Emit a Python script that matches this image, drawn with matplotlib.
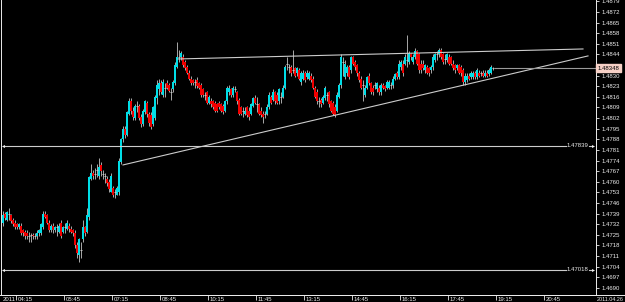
import numpy as np
import matplotlib
matplotlib.use("Agg")
import matplotlib.pyplot as plt
from matplotlib.lines import Line2D

# --------- DATA (M5-ish bars) -----------------------------
open_ = [
    1.4733, 1.4739, 1.4735, 1.4739, 1.4738, 1.4735, 1.4733, 1.4732, 1.4730, 1.4731,
    1.4728, 1.4727, 1.4726, 1.4724, 1.4725, 1.4725, 1.4724, 1.4724, 1.4726, 1.4726,
    1.4730, 1.4739, 1.4738, 1.4733, 1.4728, 1.4731, 1.4728, 1.4730, 1.4727, 1.4733,
    1.4727, 1.4730, 1.4729, 1.4731, 1.4729, 1.4728, 1.4726, 1.4718, 1.4712, 1.4715,
    1.4722, 1.4730, 1.4727, 1.4737, 1.4762, 1.4766, 1.4765, 1.4768, 1.4764, 1.4771,
    1.4765, 1.4764, 1.4762, 1.4760, 1.4753, 1.4756, 1.4753, 1.4751, 1.4753, 1.4773,
    1.4788, 1.4795, 1.4791, 1.4805, 1.4813, 1.4807, 1.4802, 1.4810, 1.4810, 1.4803,
    1.4798, 1.4806, 1.4812, 1.4805, 1.4804, 1.4798, 1.4802, 1.4815, 1.4821, 1.4825,
    1.4817, 1.4822, 1.4825, 1.4824, 1.4819, 1.4821, 1.4825, 1.4836, 1.4842, 1.4842,
    1.4842, 1.4839, 1.4836, 1.4832, 1.4828, 1.4827, 1.4826, 1.4827, 1.4825, 1.4824,
    1.4821, 1.4817, 1.4819, 1.4812, 1.4813, 1.4813, 1.4812, 1.4811, 1.4812, 1.4811,
    1.4810, 1.4807, 1.4813, 1.4819, 1.4821, 1.4817, 1.4821, 1.4819, 1.4814, 1.4809,
    1.4807, 1.4805, 1.4809, 1.4807, 1.4805, 1.4810, 1.4815, 1.4811, 1.4811, 1.4807,
    1.4805, 1.4805, 1.4805, 1.4809, 1.4816, 1.4814, 1.4819, 1.4817, 1.4813, 1.4816,
    1.4816, 1.4822, 1.4838, 1.4836, 1.4836, 1.4834, 1.4835, 1.4832, 1.4834, 1.4826,
    1.4828, 1.4832, 1.4829, 1.4828, 1.4830, 1.4828, 1.4822, 1.4819, 1.4813, 1.4814,
    1.4812, 1.4815, 1.4817, 1.4819, 1.4813, 1.4812, 1.4809, 1.4807, 1.4816, 1.4824,
    1.4839, 1.4829, 1.4832, 1.4836, 1.4834, 1.4842, 1.4839, 1.4837, 1.4832, 1.4828,
    1.4824, 1.4817, 1.4822, 1.4830, 1.4825, 1.4822, 1.4824, 1.4821, 1.4822, 1.4819,
    1.4824, 1.4823, 1.4822, 1.4822, 1.4824, 1.4824, 1.4828, 1.4832, 1.4829, 1.4836,
    1.4838, 1.4838, 1.4840, 1.4839, 1.4844, 1.4839, 1.4842, 1.4846, 1.4844, 1.4838,
    1.4838, 1.4834, 1.4836, 1.4835, 1.4834, 1.4836, 1.4840, 1.4844, 1.4844, 1.4847,
    1.4844, 1.4841, 1.4840, 1.4842, 1.4842, 1.4838, 1.4837, 1.4835, 1.4837, 1.4836,
    1.4834, 1.4826, 1.4827, 1.4830, 1.4829, 1.4829, 1.4832, 1.4829, 1.4832, 1.4832,
    1.4832, 1.4830, 1.4832, 1.4831, 1.4832, 1.4835,
]
high = [
    1.4741, 1.4740, 1.4741, 1.4743, 1.4739, 1.4736, 1.4735, 1.4733, 1.4733, 1.4733,
    1.4729, 1.4728, 1.4728, 1.4727, 1.4726, 1.4726, 1.4726, 1.4728, 1.4729, 1.4733,
    1.4741, 1.4741, 1.4739, 1.4735, 1.4732, 1.4733, 1.4731, 1.4732, 1.4733, 1.4735,
    1.4731, 1.4733, 1.4735, 1.4733, 1.4731, 1.4729, 1.4728, 1.4720, 1.4723, 1.4720,
    1.4735, 1.4731, 1.4743, 1.4764, 1.4772, 1.4768, 1.4769, 1.4772, 1.4776, 1.4773,
    1.4768, 1.4766, 1.4764, 1.4762, 1.4766, 1.4757, 1.4755, 1.4757, 1.4776, 1.4789,
    1.4797, 1.4797, 1.4807, 1.4815, 1.4815, 1.4809, 1.4811, 1.4813, 1.4811, 1.4805,
    1.4808, 1.4814, 1.4813, 1.4806, 1.4806, 1.4810, 1.4817, 1.4827, 1.4828, 1.4827,
    1.4828, 1.4825, 1.4827, 1.4825, 1.4822, 1.4827, 1.4839, 1.4852, 1.4847, 1.4846,
    1.4844, 1.4840, 1.4837, 1.4834, 1.4830, 1.4828, 1.4828, 1.4829, 1.4826, 1.4825,
    1.4822, 1.4819, 1.4820, 1.4817, 1.4815, 1.4814, 1.4813, 1.4812, 1.4813, 1.4812,
    1.4811, 1.4814, 1.4823, 1.4824, 1.4822, 1.4823, 1.4823, 1.4820, 1.4815, 1.4810,
    1.4809, 1.4809, 1.4810, 1.4809, 1.4812, 1.4816, 1.4817, 1.4816, 1.4812, 1.4809,
    1.4807, 1.4807, 1.4811, 1.4819, 1.4817, 1.4821, 1.4820, 1.4819, 1.4822, 1.4819,
    1.4824, 1.4837, 1.4842, 1.4838, 1.4837, 1.4847, 1.4836, 1.4836, 1.4835, 1.4833,
    1.4834, 1.4833, 1.4834, 1.4833, 1.4832, 1.4830, 1.4823, 1.4821, 1.4816, 1.4815,
    1.4817, 1.4823, 1.4819, 1.4820, 1.4814, 1.4813, 1.4811, 1.4819, 1.4825, 1.4844,
    1.4842, 1.4840, 1.4837, 1.4837, 1.4843, 1.4843, 1.4840, 1.4838, 1.4833, 1.4830,
    1.4827, 1.4824, 1.4830, 1.4832, 1.4826, 1.4824, 1.4826, 1.4826, 1.4824, 1.4825,
    1.4825, 1.4824, 1.4827, 1.4827, 1.4826, 1.4830, 1.4832, 1.4833, 1.4840, 1.4840,
    1.4840, 1.4844, 1.4857, 1.4846, 1.4845, 1.4844, 1.4848, 1.4847, 1.4845, 1.4840,
    1.4840, 1.4838, 1.4837, 1.4836, 1.4837, 1.4844, 1.4845, 1.4846, 1.4848, 1.4848,
    1.4845, 1.4844, 1.4845, 1.4844, 1.4843, 1.4840, 1.4838, 1.4838, 1.4838, 1.4837,
    1.4835, 1.4832, 1.4832, 1.4832, 1.4833, 1.4833, 1.4833, 1.4835, 1.4834, 1.4833,
    1.4834, 1.4834, 1.4834, 1.4835, 1.4837, 1.4836,
]
low = [
    1.4731, 1.4735, 1.4734, 1.4735, 1.4733, 1.4731, 1.4729, 1.4729, 1.4729, 1.4725,
    1.4724, 1.4722, 1.4722, 1.4720, 1.4720, 1.4722, 1.4722, 1.4722, 1.4724, 1.4725,
    1.4729, 1.4736, 1.4732, 1.4727, 1.4727, 1.4726, 1.4727, 1.4724, 1.4726, 1.4723,
    1.4726, 1.4726, 1.4728, 1.4727, 1.4726, 1.4724, 1.4716, 1.4710, 1.4707, 1.4710,
    1.4720, 1.4724, 1.4726, 1.4735, 1.4761, 1.4762, 1.4762, 1.4763, 1.4762, 1.4764,
    1.4762, 1.4759, 1.4757, 1.4753, 1.4753, 1.4750, 1.4749, 1.4751, 1.4751, 1.4772,
    1.4786, 1.4789, 1.4790, 1.4804, 1.4805, 1.4801, 1.4801, 1.4806, 1.4801, 1.4796,
    1.4797, 1.4805, 1.4803, 1.4797, 1.4795, 1.4797, 1.4801, 1.4811, 1.4817, 1.4818,
    1.4816, 1.4816, 1.4821, 1.4819, 1.4814, 1.4819, 1.4824, 1.4835, 1.4839, 1.4840,
    1.4836, 1.4834, 1.4831, 1.4827, 1.4824, 1.4824, 1.4822, 1.4822, 1.4821, 1.4816,
    1.4816, 1.4814, 1.4811, 1.4811, 1.4809, 1.4808, 1.4806, 1.4806, 1.4808, 1.4806,
    1.4805, 1.4806, 1.4811, 1.4817, 1.4816, 1.4816, 1.4819, 1.4811, 1.4804, 1.4804,
    1.4803, 1.4804, 1.4803, 1.4801, 1.4804, 1.4809, 1.4811, 1.4806, 1.4804, 1.4803,
    1.4799, 1.4802, 1.4804, 1.4808, 1.4811, 1.4813, 1.4811, 1.4811, 1.4811, 1.4812,
    1.4815, 1.4821, 1.4834, 1.4832, 1.4830, 1.4832, 1.4829, 1.4830, 1.4827, 1.4824,
    1.4827, 1.4826, 1.4828, 1.4827, 1.4826, 1.4821, 1.4815, 1.4811, 1.4809, 1.4809,
    1.4811, 1.4814, 1.4813, 1.4809, 1.4806, 1.4804, 1.4803, 1.4806, 1.4815, 1.4822,
    1.4830, 1.4828, 1.4830, 1.4828, 1.4832, 1.4837, 1.4834, 1.4830, 1.4826, 1.4821,
    1.4813, 1.4816, 1.4821, 1.4824, 1.4818, 1.4817, 1.4821, 1.4819, 1.4817, 1.4817,
    1.4821, 1.4820, 1.4821, 1.4821, 1.4821, 1.4822, 1.4827, 1.4828, 1.4828, 1.4834,
    1.4830, 1.4837, 1.4836, 1.4838, 1.4840, 1.4838, 1.4841, 1.4837, 1.4832, 1.4832,
    1.4834, 1.4832, 1.4831, 1.4830, 1.4832, 1.4834, 1.4839, 1.4840, 1.4842, 1.4841,
    1.4838, 1.4838, 1.4839, 1.4837, 1.4837, 1.4834, 1.4832, 1.4834, 1.4831, 1.4830,
    1.4824, 1.4824, 1.4826, 1.4827, 1.4828, 1.4828, 1.4828, 1.4828, 1.4829, 1.4830,
    1.4829, 1.4829, 1.4829, 1.4830, 1.4831, 1.4834,
]
close = [
    1.4738, 1.4736, 1.4740, 1.4739, 1.4734, 1.4732, 1.4730, 1.4730, 1.4732, 1.4726,
    1.4726, 1.4724, 1.4724, 1.4724, 1.4725, 1.4724, 1.4724, 1.4726, 1.4728, 1.4732,
    1.4739, 1.4737, 1.4733, 1.4728, 1.4731, 1.4728, 1.4730, 1.4730, 1.4731, 1.4724,
    1.4730, 1.4730, 1.4733, 1.4729, 1.4727, 1.4726, 1.4718, 1.4713, 1.4722, 1.4715,
    1.4730, 1.4726, 1.4738, 1.4763, 1.4766, 1.4764, 1.4765, 1.4768, 1.4770, 1.4767,
    1.4765, 1.4764, 1.4759, 1.4755, 1.4764, 1.4751, 1.4753, 1.4756, 1.4774, 1.4788,
    1.4795, 1.4791, 1.4806, 1.4813, 1.4807, 1.4803, 1.4810, 1.4810, 1.4802, 1.4798,
    1.4807, 1.4813, 1.4805, 1.4799, 1.4796, 1.4809, 1.4816, 1.4824, 1.4825, 1.4819,
    1.4826, 1.4822, 1.4822, 1.4820, 1.4819, 1.4826, 1.4837, 1.4842, 1.4842, 1.4845,
    1.4837, 1.4835, 1.4832, 1.4828, 1.4825, 1.4825, 1.4826, 1.4823, 1.4822, 1.4817,
    1.4817, 1.4817, 1.4812, 1.4816, 1.4811, 1.4809, 1.4807, 1.4807, 1.4809, 1.4807,
    1.4806, 1.4813, 1.4822, 1.4822, 1.4817, 1.4822, 1.4821, 1.4813, 1.4805, 1.4805,
    1.4807, 1.4807, 1.4804, 1.4803, 1.4811, 1.4815, 1.4812, 1.4811, 1.4805, 1.4804,
    1.4803, 1.4805, 1.4809, 1.4817, 1.4812, 1.4819, 1.4813, 1.4812, 1.4821, 1.4816,
    1.4822, 1.4836, 1.4838, 1.4836, 1.4832, 1.4834, 1.4830, 1.4835, 1.4828, 1.4832,
    1.4832, 1.4827, 1.4832, 1.4832, 1.4827, 1.4822, 1.4816, 1.4813, 1.4813, 1.4811,
    1.4816, 1.4822, 1.4817, 1.4811, 1.4807, 1.4805, 1.4804, 1.4817, 1.4824, 1.4842,
    1.4839, 1.4838, 1.4836, 1.4829, 1.4842, 1.4838, 1.4836, 1.4832, 1.4827, 1.4822,
    1.4824, 1.4822, 1.4829, 1.4825, 1.4819, 1.4819, 1.4824, 1.4825, 1.4819, 1.4824,
    1.4822, 1.4821, 1.4826, 1.4826, 1.4824, 1.4828, 1.4831, 1.4829, 1.4838, 1.4839,
    1.4832, 1.4842, 1.4840, 1.4845, 1.4842, 1.4842, 1.4846, 1.4838, 1.4834, 1.4834,
    1.4835, 1.4837, 1.4832, 1.4832, 1.4836, 1.4842, 1.4844, 1.4844, 1.4847, 1.4842,
    1.4839, 1.4841, 1.4844, 1.4838, 1.4838, 1.4835, 1.4834, 1.4837, 1.4832, 1.4832,
    1.4826, 1.4830, 1.4830, 1.4828, 1.4832, 1.4832, 1.4829, 1.4834, 1.4830, 1.4832,
    1.4830, 1.4832, 1.4830, 1.4834, 1.4836, 1.4835,
]

time_labels = ["04:15", "05:45", "07:15", "08:45", "10:15", "11:45",
               "13:15", "14:45", "16:15", "17:45", "19:15", "20:45"]
time_label_bars = [6.5, 30.5, 54.5, 78.5, 102.5, 126.5,
                   150.5, 174.5, 198.5, 222.5, 246.5, 270.5]
first_label = "2011"
last_label = "2011.04.26"

# trend lines: (bar, price) end points
upper_trend = [(87.5, 1.48410), (290.0, 1.48476)]
lower_trend = [(60.0, 1.47711), (292.5, 1.48430)]
# horizontal levels
levels = [1.47839, 1.47018]
current_price = 1.48348

# --------- STYLE ----------
BG = "black"
FG = "#ececec"
CYAN = "#00dde6"
RED = "#f00000"
WICK = "#c4c4c4"
LINE = "#cccccc"
FS = 4.3

plt.rcParams["font.family"] = ["Liberation Sans", "DejaVu Sans"]

o = np.array(open_)
h = np.array(high)
l = np.array(low)
c = np.array(close)
x = np.arange(len(c))

fig = plt.figure(figsize=(6.25, 3.02), dpi=100, facecolor=BG)
ax = fig.add_axes([1 / 625, 7 / 302, 595 / 625, 295 / 302], facecolor=BG)

ax.set_xlim(-1, 296.5)
ax.set_ylim(1.46853, 1.48799)

# candles
ax.vlines(x, l, h, color=WICK, lw=0.6, zorder=2)
up = c > o
dn = c < o
flat = c == o
ax.bar(x[up], (c - o)[up], bottom=o[up], width=0.8, color=CYAN, linewidth=0, zorder=3)
ax.bar(x[dn], (o - c)[dn], bottom=c[dn], width=0.8, color=RED, linewidth=0, zorder=3)
ax.hlines(c[flat], x[flat] - 0.4, x[flat] + 0.4, color=WICK, lw=0.7, zorder=3)

# trend lines
for seg in (upper_trend, lower_trend):
    ax.plot([seg[0][0], seg[1][0]], [seg[0][1], seg[1][1]], color=LINE, lw=0.8, zorder=4)

# current price ray
ax.hlines(current_price, x[-1] + 0.5, 296.5, color="#9a9a9a", lw=0.8, zorder=4)

# horizontal levels with labels
yt = ax.get_yaxis_transform()
for p in levels:
    ax.plot([0.004, 0.9496], [p, p], transform=yt, color=LINE, lw=0.8, zorder=4)
    ax.text(0.9866, p, f"{p:.5f}", transform=yt, ha="right", va="center",
            fontsize=FS, color=FG, zorder=5)
    ax.plot([0.988, 0.993], [p, p], transform=yt, color=LINE, lw=0.8, zorder=4)
    ax.plot([0.995], [p], transform=yt, marker=">", ms=2.2, color=FG, mew=0, zorder=5)
    ax.plot([0.003], [p], transform=yt, marker="<", ms=2.2, color=FG, mew=0, zorder=5)

# price axis on the right
price_ticks = np.round(1.4690 + 0.0007 * np.arange(28), 4)
ax.yaxis.tick_right()
ax.set_yticks(price_ticks)
ax.set_yticklabels(["" if abs(t - current_price) < 0.0003 else f"{t:.4f}" for t in price_ticks])
ax.tick_params(axis="y", colors=FG, labelsize=FS, length=2.2, width=0.6, pad=2.0)

# current price box
ax.text(1.003, current_price, f"{current_price:.5f}", transform=yt, ha="left", va="center",
        fontsize=FS, color="black", clip_on=False, zorder=6,
        bbox=dict(boxstyle="square,pad=0.25", fc="#f6d0c6", ec="#f6d0c6"))

# time axis
ax.set_xticks(time_label_bars)
ax.tick_params(axis="x", colors=FG, labelbottom=False, length=3.5, width=0.6)
xt = ax.get_xaxis_transform()
for b, lab in zip(time_label_bars, time_labels):
    ax.text(b + 0.8, -0.006, lab, transform=xt, ha="left", va="top",
            fontsize=FS, color=FG, clip_on=False)
ax.text(0.002, -0.006, first_label, transform=ax.transAxes, ha="left", va="top",
        fontsize=FS, color=FG, clip_on=False)
# date at the far right, kept inside the figure edge
fig.text(0.9985, 0.0, last_label, ha="right", va="bottom", fontsize=3.9, color=FG)

for side in ("left", "right", "bottom"):
    ax.spines[side].set_color(FG)
    ax.spines[side].set_linewidth(0.7)
ax.spines["top"].set_visible(False)

# bottom line runs under the price scale too
fig.add_artist(Line2D([0, 1], [7 / 302, 7 / 302], color=FG, lw=0.7))

fig.savefig("out.png", dpi=100, facecolor=BG)
